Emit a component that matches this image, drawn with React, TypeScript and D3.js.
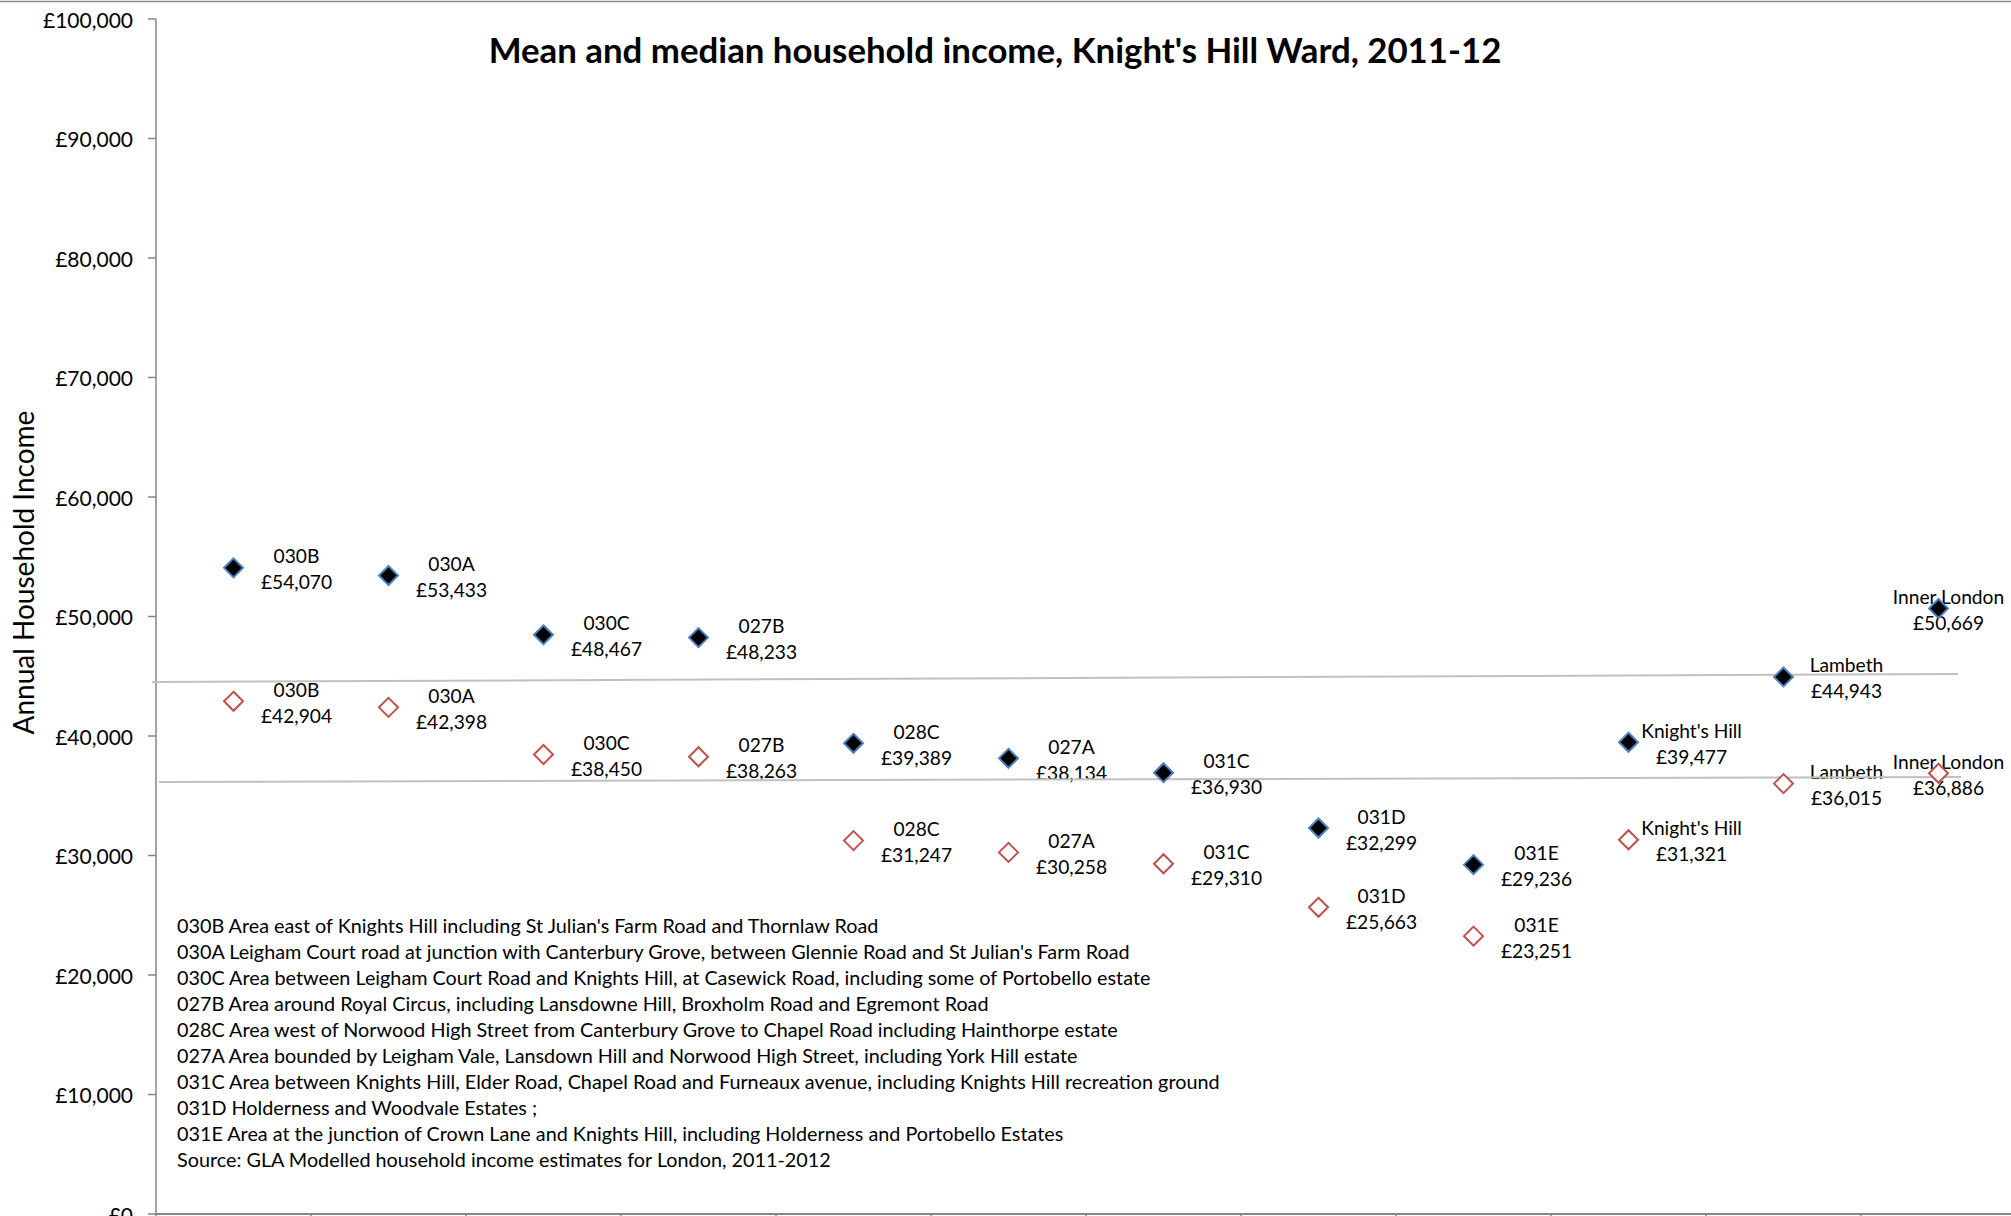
import React from "react";
import * as d3 from "d3";

const categories = ["030B", "030A", "030C", "027B", "028C", "027A", "031C", "031D", "031E", "Knight's Hill", "Lambeth", "Inner London"];
const meanValues = [54070, 53433, 48467, 48233, 39389, 38134, 36930, 32299, 29236, 39477, 44943, 50669];
const medianValues = [42904, 42398, 38450, 38263, 31247, 30258, 29310, 25663, 23251, 31321, 36015, 36886];
const yTickValues = [0, 10000, 20000, 30000, 40000, 50000, 60000, 70000, 80000, 90000, 100000];
// reference lines in data units: [x (category axis units), y value]
const refLineStarts = [[-0.026, 44519], [0.019, 36151]];
const refLineEnds = [[11.626, 45188], [11.645, 36569]];
const footnotes = [
  "030B Area east of Knights Hill including St Julian's Farm Road and Thornlaw Road",
  "030A Leigham Court road  at junction with Canterbury Grove, between Glennie Road and St Julian's Farm Road",
  "030C Area between Leigham Court Road and Knights Hill, at  Casewick Road, including some of Portobello estate",
  "027B Area around Royal Circus, including Lansdowne Hill, Broxholm Road and Egremont Road",
  "028C Area west of Norwood High Street from Canterbury Grove to Chapel Road including Hainthorpe estate",
  "027A Area bounded by Leigham Vale, Lansdown Hill and Norwood High Street, including York Hill estate",
  "031C Area between Knights Hill, Elder Road, Chapel Road and Furneaux avenue, including Knights Hill recreation ground",
  "031D Holderness and Woodvale Estates ;",
  "031E Area at the junction of Crown Lane and Knights Hill, including Holderness and Portobello Estates",
  "Source: GLA Modelled household income estimates for London, 2011-2012",
];
const titleText = "Mean and median household income, Knight's Hill Ward, 2011-12";
const yAxisTitle = "Annual Household Income";

const W = 2011;
const H = 1216;
const left = 156;
const right = 2016;
const top = 19;
const bottom = 1214;
const FONT = "Lato, 'Open Sans', sans-serif";

export default function App() {
  const x = d3.scaleBand<string>().domain(categories).range([left, right]).paddingInner(0).paddingOuter(0);
  const xLin = d3.scaleLinear().domain([0, categories.length]).range([left, right]);
  const y = d3.scaleLinear().domain([0, 100000]).range([bottom, top]);
  const fmt = (v: number) => "£" + d3.format(",")(v);
  const cx = (c: string) => (x(c) as number) + x.bandwidth() / 2;
  const diamond = (px: number, py: number, r: number) =>
    `M${px},${py - r}L${px + r},${py}L${px},${py + r}L${px - r},${py}Z`;
  const boundaries = d3.range(categories.length + 1).map((i) => xLin(i));

  const labelFor = (c: string, i: number, v: number, key: string) => {
    const isLast = i === categories.length - 1;
    const lx = cx(c) + (isLast ? 10 : 63);
    const ly = y(v);
    return (
      <g key={key} fontFamily={FONT} fontSize={19.2} fill="#000" textAnchor="middle">
        <text x={lx} y={ly - 12} dominantBaseline="central">{c}</text>
        <text x={lx} y={ly + 14} dominantBaseline="central">{fmt(v)}</text>
      </g>
    );
  };

  return (
    <svg width={W} height={H} style={{ position: "absolute", left: 0, top: 0, background: "#fff" }}>
      <rect x={0} y={0} width={W} height={H} fill="#fff" />
      <line x1={0} x2={W} y1={1.5} y2={1.5} stroke="#8c8c8c" strokeWidth={1.5} />
      {/* title */}
      <text x={995} y={63} textAnchor="middle" fontFamily={FONT} fontWeight={700} fontSize={34.8} fill="#000">
        {titleText}
      </text>
      {/* y axis */}
      <line x1={left} x2={left} y1={top} y2={bottom} stroke="#868686" strokeWidth={1.5} />
      {yTickValues.map((t) => (
        <g key={t}>
          <line x1={left - 8} x2={left} y1={y(t)} y2={y(t)} stroke="#868686" strokeWidth={1.5} />
          <text x={133} y={y(t)} textAnchor="end" dominantBaseline="central" fontFamily={FONT} fontSize={21} fill="#000">
            {fmt(t)}
          </text>
        </g>
      ))}
      <text
        transform={`translate(23,${(top + bottom) / 2 - 44}) rotate(-90)`}
        textAnchor="middle"
        dominantBaseline="central"
        fontFamily={FONT}
        fontSize={28}
        fill="#000"
      >
        {yAxisTitle}
      </text>
      {/* x axis */}
      <line x1={left} x2={right} y1={bottom} y2={bottom} stroke="#868686" strokeWidth={2} />
      {boundaries.map((b, i) => (
        <line key={i} x1={b} x2={b} y1={bottom} y2={bottom + 8} stroke="#868686" strokeWidth={1.5} />
      ))}
      {/* footnotes */}
      <g fontFamily={FONT} fontSize={19.8} fill="#000">
        {footnotes.map((f, i) => (
          <text key={i} x={177} y={925 + i * 26} dominantBaseline="central">{f}</text>
        ))}
      </g>
      {/* labels */}
      {categories.map((c, i) => labelFor(c, i, meanValues[i], "m" + i))}
      {categories.map((c, i) => labelFor(c, i, medianValues[i], "d" + i))}
      {/* reference lines */}
      {refLineStarts.map((s, i) => (
        <line
          key={i}
          x1={xLin(s[0])}
          y1={y(s[1])}
          x2={xLin(refLineEnds[i][0])}
          y2={y(refLineEnds[i][1])}
          stroke="#c0c0c0"
          strokeWidth={2}
        />
      ))}
      {/* markers */}
      {categories.map((c, i) => (
        <path key={"mm" + i} d={diamond(cx(c), y(meanValues[i]), 9.5)} fill="#000" stroke="#4F81BD" strokeWidth={2} />
      ))}
      {categories.map((c, i) => (
        <path key={"dm" + i} d={diamond(cx(c), y(medianValues[i]), 9.5)} fill="#fff" stroke="#C0504D" strokeWidth={2} />
      ))}
    </svg>
  );
}
